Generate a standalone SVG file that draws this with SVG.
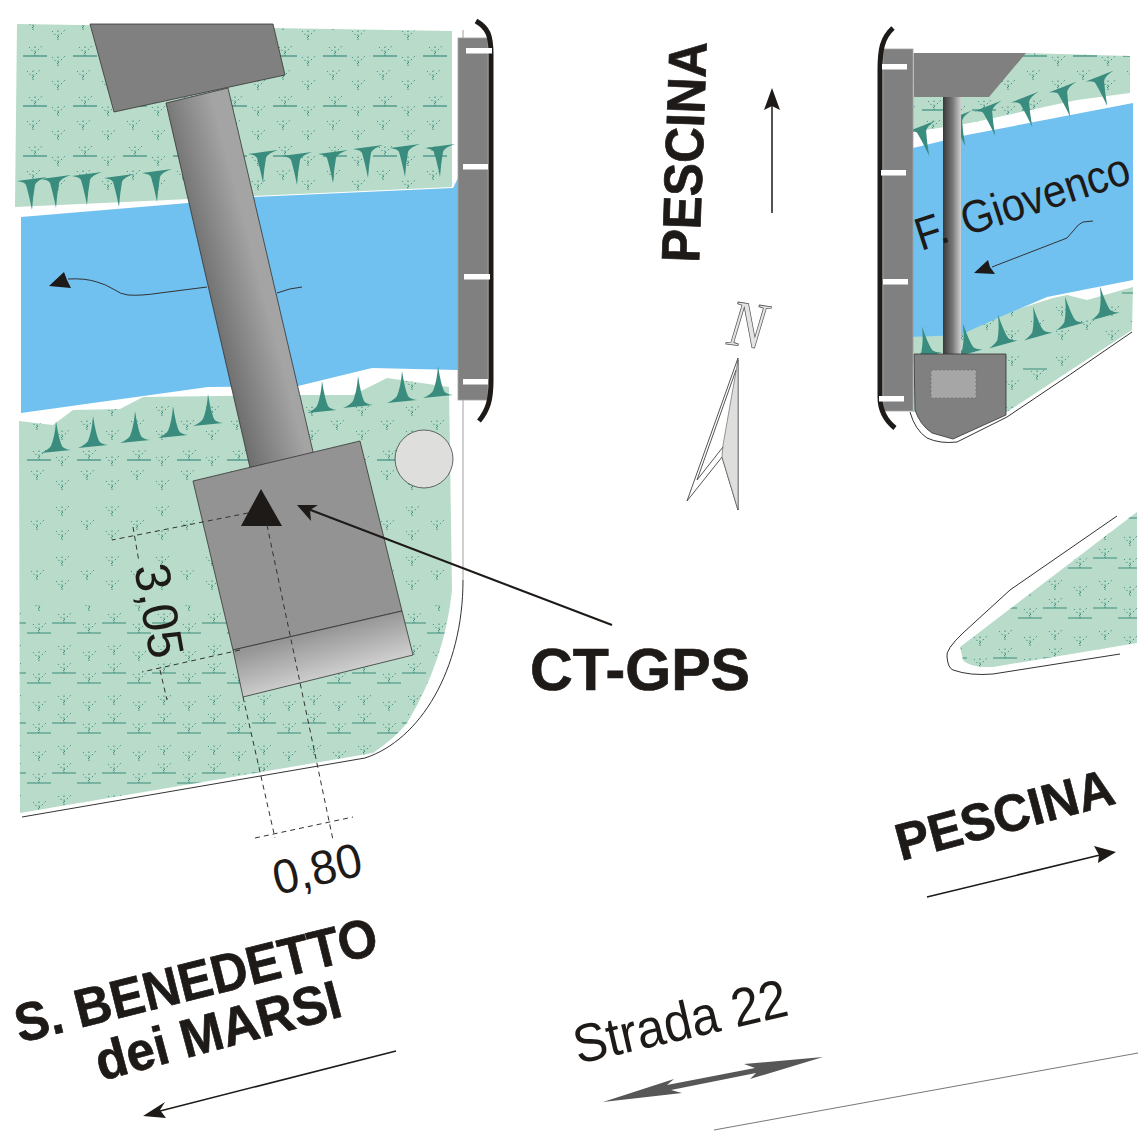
<svg xmlns="http://www.w3.org/2000/svg" width="1138" height="1132" viewBox="0 0 1138 1132">
<style>
text{font-family:"Liberation Sans",Arial,sans-serif;fill:#1d1a18}
.b{font-weight:bold;stroke:#1d1a18;stroke-width:.7}
.g{fill:#b8dcc9}
.r{fill:#70c0f0}
.d{fill:none;stroke:#333;stroke-width:1;stroke-dasharray:5 4}
.o{fill:none;stroke:#333;stroke-width:1}
.w{fill:#fff}
.s{fill:#808080;stroke:#333;stroke-width:.8}
.rail{fill:#808080;stroke:#a0a0a0;stroke-width:.8}
.t{fill:none;stroke:#1d1a18;stroke-width:5}
.k{fill:#3a8c7e}
.tf{fill:none;stroke:#3a8c7e;stroke-width:1;stroke-dasharray:1.5 2.5}
.ln{stroke:#3a8c7e;stroke-width:1.2}
.ar{stroke:#1d1a18;stroke-width:1.5;fill:none}
.a{fill:#1d1a18}
</style>
<defs>
<path id="tuft-shape" d="M0 0V-11M0 -2L-6 -9M0 -3L7 -10"/>
<pattern id="tuft" width="50" height="50" patternUnits="userSpaceOnUse">
<g class="tf"><use href="#tuft-shape" x="33" y="30"/><use href="#tuft-shape" x="8" y="40"/><use href="#tuft-shape" x="8" y="16"/></g>
</pattern>
<pattern id="tuft2" width="50" height="50" patternUnits="userSpaceOnUse" x="4" y="0">
<g class="tf"><use href="#tuft-shape" x="33" y="30"/><use href="#tuft-shape" x="8" y="40"/><use href="#tuft-shape" x="8" y="16"/></g>
</pattern>
<pattern id="line" width="50" height="50" patternUnits="userSpaceOnUse" x="23" y="-14">
<path class="ln" d="M0 20H24"/><use class="tf" href="#tuft-shape" x="12" y="20"/>
</pattern>
<pattern id="lineb" width="50" height="50" patternUnits="userSpaceOnUse" x="27" y="-10">
<path class="ln" d="M0 20H24"/><use class="tf" href="#tuft-shape" x="12" y="20"/>
</pattern>
<pattern id="line2" width="50" height="50" patternUnits="userSpaceOnUse" x="27" y="593">
<path class="ln" d="M0 40H24M25 30H49"/><use class="tf" href="#tuft-shape" x="12" y="40"/><use class="tf" href="#tuft-shape" x="37" y="30"/><use class="tf" href="#tuft-shape" x="12" y="18"/><use class="tf" href="#tuft-shape" x="37" y="12"/>
</pattern>
<pattern id="line3" width="50" height="50" patternUnits="userSpaceOnUse" x="1018" y="578">
<path class="ln" d="M0 40H24M25 30H49"/><use class="tf" href="#tuft-shape" x="12" y="40"/><use class="tf" href="#tuft-shape" x="37" y="30"/><use class="tf" href="#tuft-shape" x="12" y="18"/><use class="tf" href="#tuft-shape" x="37" y="12"/>
</pattern>
<linearGradient id="deck" gradientUnits="userSpaceOnUse" x1="190" y1="290" x2="258" y2="272"><stop offset="0" stop-color="#626262"/><stop offset="1" stop-color="#a4a4a4"/></linearGradient>
<linearGradient id="deck2" x1="0" x2="1" y1="0" y2="0"><stop offset="0" stop-color="#383838"/><stop offset=".55" stop-color="#7a7a7a"/><stop offset="1" stop-color="#cfcfcf"/></linearGradient>
<linearGradient id="apron" gradientUnits="userSpaceOnUse" x1="315" y1="632" x2="328" y2="680"><stop offset="0" stop-color="#959595"/><stop offset="1" stop-color="#d2d2d2"/></linearGradient>
<path id="sp" d="M-15 1Q0 -1 15 -3Q5 0 3 5Q1 16 0 30Q-3 15 -6 5Q-7 2 -15 1Z"/>
<path id="up" d="M0 -29Q3 -10 6 -4Q8 -1 15 0L-15 3Q-8 0 -5 -4Q-1 -14 0 -29Z"/>
<clipPath id="lm"><path d="M19 421L53 425L73 410L120 409L143 397L300 395L353 395L387 378L449 387L452 590Q445 660 407 723Q395 738 373 753L20 813Z"/></clipPath>
<clipPath id="um"><path d="M17 24L452 31V187L15 207Z"/></clipPath>
<clipPath id="rm"><path d="M1026 53L1130 56V93L1077 100L970 123L913 132V53Z"/></clipPath>
<clipPath id="tm"><path d="M1137 512V643L993 667Q970 668 963 660L960 647Z"/></clipPath>
</defs>

<g id="left-bank">
<path class="g" d="M17 24L452 31V187L15 207Z"/>
<path fill="url(#tuft)" d="M17 24L452 31V187L15 207Z"/>
<rect x="15" y="40" width="440" height="120" fill="url(#line)" clip-path="url(#um)"/>
<path class="g" d="M19 421L53 425L73 410L120 409L143 397L300 395L353 395L387 378L449 387L452 590Q445 660 407 723Q395 738 373 753L20 813Z"/>
<g clip-path="url(#lm)">
<rect x="15" y="380" width="440" height="225" fill="url(#tuft2)"/>
<rect x="15" y="445" width="440" height="18" fill="url(#lineb)"/>
<rect x="15" y="605" width="440" height="210" fill="url(#line2)"/>
</g>
</g>
<g id="left-river">
<path class="r" d="M21 217L188 203L253 197L453 188L458 178V370L372 368L298 386L208 387L21 413Z"/>
<path class="o" d="M302 287Q290 288 277 293M207 287L160 293Q140 296 128 295Q120 294 115 290Q105 284 97 282Q85 278 68 279"/>
<path class="a" d="M49 286L64 272L67 280L71 288Z"/>
</g>
<g id="left-spikes" class="k">
<use href="#sp" x="32" y="180"/><use href="#sp" x="56" y="178"/><use href="#sp" x="87" y="175"/><use href="#sp" x="119" y="177"/><use href="#sp" x="157" y="172"/>
<use href="#sp" x="263" y="153"/><use href="#sp" x="297" y="155"/><use href="#sp" x="333" y="153"/><use href="#sp" x="368" y="148"/><use href="#sp" x="405" y="147"/><use href="#sp" x="440" y="147"/>
<use href="#up" x="56" y="450"/><use href="#up" x="93" y="445"/><use href="#up" x="135" y="440"/><use href="#up" x="173" y="435"/><use href="#up" x="208" y="423"/>
<use href="#up" x="322" y="410"/><use href="#up" x="358" y="405"/><use href="#up" x="402" y="400"/><use href="#up" x="438" y="395"/>
</g>
<g id="left-bridge">
<path d="M166 103L228 88L314 456L251 472Z" fill="url(#deck)" stroke="#333" stroke-width=".8"/>
<path class="s" d="M90 24L273 24L285 75L114 112Z"/>
<path d="M193 481L360 441L402 611L233 650Z" fill="#939393" stroke="#333" stroke-width=".8"/>
<path d="M233 650L402 611L413 655L243 697Z" fill="url(#apron)" stroke="#333" stroke-width=".8"/>
<path class="a" d="M261 489L241 526H282Z"/>
<circle cx="424" cy="459" r="29" fill="#dededc" stroke="#444" stroke-width=".8"/>
</g>
<g id="left-road">
<path class="o" d="M22 817L365 758C420 740 463 670 463 580"/>
<path fill="none" stroke="#a0a0a0" d="M463 30V580"/>
<rect class="rail" x="458" y="38" width="30" height="362"/>
<path class="t" d="M476 21C488 28 491 35 491 55V380C491 400 488 410 479 421"/>
<g class="w"><rect x="466" y="48" width="26" height="5.500"/><rect x="463" y="164" width="25" height="5.500"/><rect x="464" y="274" width="26" height="5.500"/><rect x="463" y="379" width="25" height="5.500"/></g>
</g>

<g id="right-bank">
<path class="g" d="M1026 53L1130 56V93L1077 100L970 123L913 132V53Z"/>
<path fill="url(#tuft)" d="M1026 53L1130 56V93L1077 100L970 123L913 132V53Z"/>
<g clip-path="url(#rm)"><rect x="914" y="45" width="224" height="18" fill="url(#line)"/><rect x="914" y="93" width="224" height="20" fill="url(#lineb)" transform="translate(-5 0)"/></g>
<path class="g" d="M913 337L960 332L1000 315L1053 298L1067 295L1087 300L1133 287L1132 330L1007 412H913Z"/>
<path fill="url(#tuft2)" d="M913 337L960 332L1000 315L1053 298L1067 295L1087 300L1133 287L1132 330L1007 412H913Z"/>
<path class="ln" d="M1023 369H1047M1122 293H1133"/>
</g>
<g id="right-river">
<path class="r" d="M913 148L967 135L1133 103V280L1047 297L1000 317L960 335L912 337Z"/>
<path class="o" d="M1093 221L1083 222Q1078 224 1074 230L1067 238L992 267"/>
<path class="a" d="M974 273L988 260L990 267L995 274Z"/>
</g>
<g id="right-spikes" class="k">
<use href="#sp" transform="translate(922 127) rotate(-14)"/><use href="#sp" transform="translate(958 117) rotate(-14)"/><use href="#sp" transform="translate(988 107) rotate(-14)"/><use href="#sp" transform="translate(1025 98) rotate(-14)"/><use href="#sp" transform="translate(1063 88) rotate(-14)"/><use href="#sp" transform="translate(1100 77) rotate(-14)"/>
<use href="#up" transform="translate(927 355) rotate(-10)"/><use href="#up" transform="translate(968 352) rotate(-10)"/><use href="#up" transform="translate(1003 343) rotate(-10)"/><use href="#up" transform="translate(1038 335) rotate(-10)"/><use href="#up" transform="translate(1070 325) rotate(-10)"/><use href="#up" transform="translate(1105 315) rotate(-10)"/>
</g>
<g id="right-bridge">
<rect x="943" y="97" width="18" height="258" fill="url(#deck2)"/>
<path fill="#808080" d="M914 53H1026L989 97H914Z"/>
<path class="s" d="M914 354H1006V415L953 439L932 433Q920 425 915 410Z"/>
<rect x="931" y="370" width="45" height="28" fill="#a6a6a6" stroke="#777" stroke-dasharray="2 2"/>
</g>
<g id="right-road">
<path class="o" d="M1132 332Q1070 375 1007 417L957 442Q940 444 927 438Q915 430 910 412"/>
<rect class="rail" x="883" y="49" width="30" height="362"/>
<path class="t" d="M893 28C882 38 880 50 880 70V397C880 410 885 420 895 428"/>
<g class="w"><rect x="882" y="64" width="25" height="5.500"/><rect x="881" y="170" width="25" height="5.500"/><rect x="883" y="279" width="25" height="5.500"/><rect x="879" y="396" width="25" height="5.500"/></g>
</g>
<g id="triangle-island">
<path class="g" d="M1137 512V643L993 667Q970 668 963 660L960 647Z"/>
<g clip-path="url(#tm)"><rect x="950" y="500" width="190" height="180" fill="url(#line3)"/></g>
<path class="o" d="M1117 516L1010 590L963 633Q945 650 947 657Q948 668 953 670Q970 676 993 674L1120 654"/>
</g>

<g id="connectors">
<path class="d" d="M248 513L112 540M267 525L333 840M243 697L275 838M255 838L353 817M133 527L139 562M160 670L167 700M240 650L142 672"/>
<path d="M612 625L308 509" stroke="#1d1a18" stroke-width="2" fill="none"/>
<path class="a" d="M297 505L318 505L310 510L311 521Z"/>
<path class="ar" d="M772 213V105"/>
<path class="a" d="M772 88L780 110L772 106L764 110Z"/>
<path class="ar" d="M927 897L1100 855"/>
<path class="a" d="M1116 852L1094 846L1099 855L1098 863Z"/>
<path class="ar" d="M396 1051L160 1111"/>
<path class="a" d="M143 1116L165 1102L160 1110L166 1118Z"/>
<path fill="#575757" d="M603 1102L674 1079L667 1085L755 1068L744 1064L823 1057L750 1079L756 1073L671 1090L682 1093Z"/>
<path d="M714 1130L1138 1053" stroke="#555" stroke-width=".8"/>
</g>
<g id="compass">
<path d="M738 358V510L722 457L687 501Z" fill="#fff" stroke="#555"/>
<path d="M738 360V510L722 457L723 445Z" fill="#dededc" stroke="#555" stroke-width=".6"/>
<path d="M736 370L697 480L723 447" fill="none" stroke="#555"/>
<text font-size="66" style="font-family:'Liberation Serif',serif;font-style:italic;fill:#e4e4e4;stroke:#555;stroke-width:.8" transform="translate(726 344) rotate(8) scale(.85 1)">N</text>
</g>
<g id="labels">
<text class="b" font-size="60" x="530" y="690" textLength="220" lengthAdjust="spacingAndGlyphs">CT-GPS</text>
<text class="b" font-size="54" textLength="221" lengthAdjust="spacingAndGlyphs" transform="translate(699 263) rotate(-88)">PESCINA</text>
<text class="b" font-size="52" textLength="224" lengthAdjust="spacingAndGlyphs" transform="translate(901 861) rotate(-15)">PESCINA</text>
<text class="b" font-size="54" textLength="372" lengthAdjust="spacingAndGlyphs" transform="translate(20 1043) rotate(-14)">S. BENEDETTO</text>
<text class="b" font-size="54" textLength="252" lengthAdjust="spacingAndGlyphs" transform="translate(101 1081) rotate(-15)">dei MARSI</text>
<text font-size="54" textLength="218" lengthAdjust="spacingAndGlyphs" transform="translate(578 1064) rotate(-13)">Strada 22</text>
<text font-size="46" transform="translate(921 251) rotate(-18) scale(.9 1)">F.<tspan dx="5"> Giovenco</tspan></text>
<text font-size="50" textLength="95" lengthAdjust="spacingAndGlyphs" transform="translate(134 567) rotate(80)">3,05</text>
<text font-size="48" textLength="90" lengthAdjust="spacingAndGlyphs" transform="translate(277 895) rotate(-13)">0,80</text>
</g>
</svg>
